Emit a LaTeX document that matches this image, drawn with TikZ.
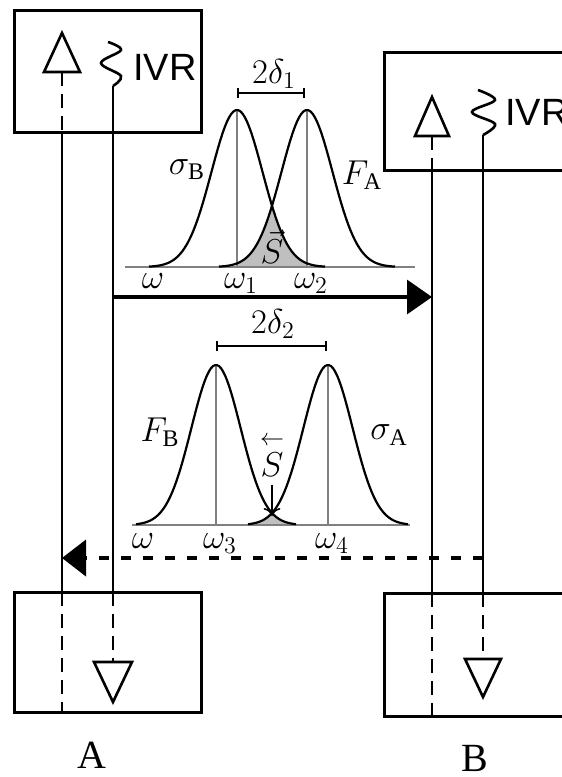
\documentclass[tikz,border=0pt]{standalone}
\usepackage{amsmath}
\usepackage{fontspec}
\setmainfont{Liberation Serif}
\newfontfamily\ivrfont{Liberation Sans}
\usetikzlibrary{arrows.meta,positioning,calc}
\tikzset{
  chbox/.style={draw,line width=1.5pt,inner sep=0pt,outer sep=0pt},
  wire/.style={line width=1.4pt},
  wired/.style={line width=1.4pt,dash pattern=on 7pt off 4pt},
  trans/.style={-{Triangle[length=12.5pt,width=17pt]},line width=1.7pt},
  transd/.style={-{Triangle[length=12pt,width=18pt]},line width=2pt,dash pattern=on 5pt off 6pt},
  tri/.style={line width=1.3pt,line join=miter},
  spring/.style={line width=1.3pt},
  axisln/.style={gray,line width=1pt},
  band/.style={{Bar[width=5pt]}-{Bar[width=5pt]},line width=1pt},
  curve/.style={line width=1.1pt,black,samples=80},
  overlap/.style={fill=gray!50,draw=none},
  lbl/.style={font=\fontsize{17}{19}\selectfont,inner sep=0pt},
  ivr/.style={font=\ivrfont\fontsize{19}{21}\selectfont,inner sep=0pt,anchor=west},
  site/.style={font=\fontsize{20}{22}\selectfont,inner sep=0pt},
}

\begin{document}
\begin{tikzpicture}[x=0.5pt,y=-0.5pt,
  declare function={ga(\x,\m)=267-157*exp(-((\x-\m)^2)/1300);
                    gb(\x,\m)=525-160*exp(-((\x-\m)^2)/1210);}]
  \useasboundingbox (0,0) rectangle (562,777);
  \clip (0,0) rectangle (562,777);

  % donor / acceptor boxes
  \node[chbox,minimum width=93.5pt,minimum height=61pt] (topA) at (107.5,71) {};
  \node[chbox,minimum width=108pt,minimum height=59pt] (topB) at (492,111) {};
  \node[chbox,minimum width=93.5pt,minimum height=60pt] (botA) at (107.5,652) {};
  \node[chbox,minimum width=108pt,minimum height=61.5pt] (botB) at (492.5,654.5) {};
  \node[ivr] (ivrA) at (133,67) {IVR};
  \node[ivr] (ivrB) at (505,112) {IVR};
  \node[site] (siteA) at (92,755) {A};
  \node[site] (siteB) at (475,758) {B};

  % levels of A
  \draw[tri] (44,72) -- (62,33) -- (80,72) -- cycle;
  \draw[wired] (62,72) -- (62,132);
  \draw[wire] (62,132) -- (62,592);
  \draw[wired] (62,592) -- (62,712);
  \draw[spring] plot[smooth,tension=0.6] coordinates {(108,42) (121,50) (101,63) (121,76) (113,86)};
  \draw[wire] (113,86) -- (113,592);
  \draw[wired] (113,592) -- (113,662);
  \draw[tri] (94,662) -- (132,662) -- (113,702) -- cycle;

  % levels of B
  \draw[tri] (415,136) -- (432,97) -- (449,136) -- cycle;
  \draw[wired] (432,136) -- (432,170);
  \draw[wire] (432,170) -- (432,593);
  \draw[wired] (432,593) -- (432,716);
  \draw[spring] plot[smooth,tension=0.6] coordinates {(478,90) (495,100) (472,112) (495,124) (483,135)};
  \draw[wire] (483,135) -- (483,593);
  \draw[wired] (483,593) -- (483,659);
  \draw[tri] (465,659) -- (501,659) -- (483,697) -- cycle;

  % transfer arrows
  \coordinate (fromA) at (113,297);
  \coordinate (toB) at (432,297);
  \coordinate (fromB) at (483,558);
  \coordinate (toA) at (62,558);
  \draw[trans] (fromA) -- (toB);
  \draw[transd] (fromB) -- (toA);

  % forward overlap
  \fill[overlap] (237,267) -- plot[domain=237:272,samples=30] (\x,{ga(\x,307)})
    -- plot[domain=272:307,samples=30] (\x,{ga(\x,237)}) -- (307,267) -- cycle;
  \draw[axisln] (125,267) -- (415,267);
  \draw[axisln] (237,267) -- (237,110);
  \draw[axisln] (307,267) -- (307,110);
  \draw[curve] plot[domain=149:325] (\x,{ga(\x,237)});
  \draw[curve] plot[domain=219:395] (\x,{ga(\x,307)});
  \draw[band] (237,93) -- (305,93);
  \node[lbl] (d1) at (274,74) {$2\delta_1$};
  \node[lbl] (sB) at (187,170) {$\sigma_{\mathrm{B}}$};
  \node[lbl] (fA) at (362,175) {$F_{\mathrm{A}}$};
  \node[lbl] (sfw) at (272,247) {$\vec{S}$};
  \node[lbl,anchor=base] (w0) at (153,288) {$\omega$};
  \node[lbl,anchor=base] (w1) at (241,288) {$\omega_1$};
  \node[lbl,anchor=base] (w2) at (311,288) {$\omega_2$};

  % backward overlap
  \fill[overlap] (256,525) -- plot[domain=256:272,samples=20] (\x,{gb(\x,328)})
    -- plot[domain=272:288,samples=20] (\x,{gb(\x,216)}) -- (288,525) -- cycle;
  \draw[axisln] (132,525) -- (410,525);
  \draw[axisln] (216,525) -- (216,365);
  \draw[axisln] (328,525) -- (328,365);
  \draw[curve] plot[domain=136:296] (\x,{gb(\x,216)});
  \draw[curve] plot[domain=248:408] (\x,{gb(\x,328)});
  \draw[band] (216,346) -- (327,346);
  \node[lbl] (d2) at (273,324) {$2\delta_2$};
  \node[lbl] (fB) at (160,432) {$F_{\mathrm{B}}$};
  \node[lbl] (sA) at (389,435) {$\sigma_{\mathrm{A}}$};
  \node[lbl] (sbw) at (272,455) {$\overset{\leftarrow}{S}$};
  \coordinate (cross) at (272,516);
  \draw[-{To[length=4pt]},line width=0.8pt] (sbw.south) ++(0,8) -- (cross);
  \node[lbl,anchor=base] (w0b) at (143,548) {$\omega$};
  \node[lbl,anchor=base] (w3) at (220,548) {$\omega_3$};
  \node[lbl,anchor=base] (w4) at (332,548) {$\omega_4$};
\end{tikzpicture}
\end{document}
